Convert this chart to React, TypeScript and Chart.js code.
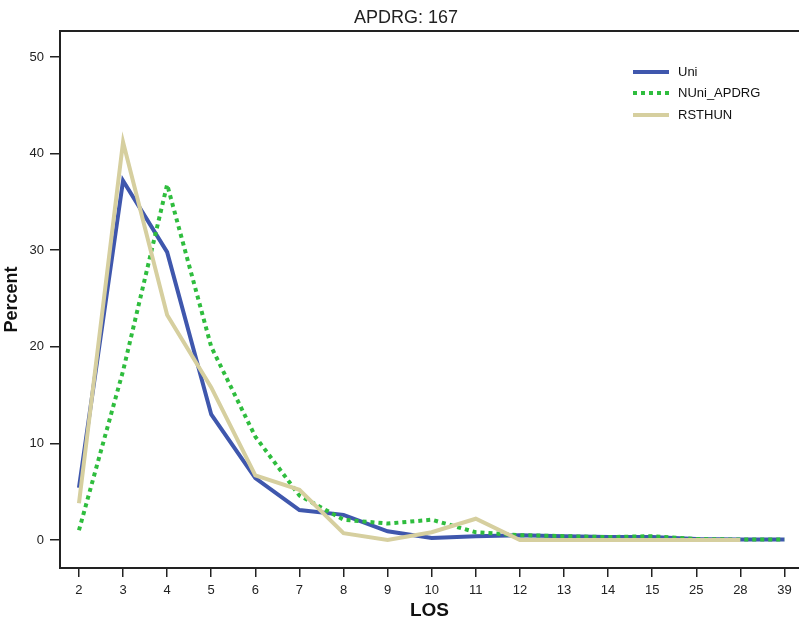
import React, { useEffect, useRef } from "react";
import { Chart, registerables } from "chart.js";

Chart.register(...registerables);

const categories = ["2", "3", "4", "5", "6", "7", "8", "9", "10", "11", "12", "13", "14", "15", "25", "28", "39"];
const uniValues = [5.4, 37.2, 29.8, 13.0, 6.4, 3.1, 2.6, 0.9, 0.2, 0.4, 0.5, 0.4, 0.3, 0.3, 0.1, 0.05, 0.05];
const nuniValues = [1.0, 17.5, 36.8, 20.0, 10.7, 4.6, 2.1, 1.7, 2.1, 0.8, 0.5, 0.4, 0.3, 0.4, 0.1, 0.05, 0.05];
const rsthunValues: (number | null)[] = [3.8, 41.2, 23.3, 15.8, 6.7, 5.2, 0.7, 0.0, 0.8, 2.2, 0.0, 0.0, 0.0, 0.0, 0.0, 0.0, null];
const yTicks = [0, 10, 20, 30, 40, 50];
const titleText = "APDRG: 167";
const seriesNames = ["Uni", "NUni_APDRG", "RSTHUN"];

const BLUE = "#3f57ad";
const GREEN = "#2fbd3e";
const TAN = "#d6cf9f";
const FONT = "'Liberation Sans', Arial, sans-serif";

function toPoints(vals: (number | null)[]) {
  return vals.map((v, i) => ({ x: i, y: v }));
}

export default function App() {
  const ref = useRef<HTMLCanvasElement | null>(null);
  useEffect(() => {
    if (!ref.current) return;
    const decor = {
      id: "decor",
      afterDraw(chart: any) {
        const ctx = chart.ctx;
        const a = chart.chartArea;
        ctx.save();
        // top frame line
        ctx.strokeStyle = "#222";
        ctx.lineWidth = 2;
        ctx.beginPath();
        ctx.moveTo(a.left - 1, a.top);
        ctx.lineTo(chart.width, a.top);
        ctx.stroke();
        // title
        ctx.fillStyle = "#222";
        ctx.font = `18px ${FONT}`;
        ctx.textAlign = "center";
        ctx.textBaseline = "middle";
        ctx.fillText(titleText, 406, 18);
        // legend
        const styles = [
          { c: BLUE, d: [] as number[] },
          { c: GREEN, d: [4, 4] },
          { c: TAN, d: [] as number[] },
        ];
        const ys = [72, 93, 115];
        ctx.font = `13px ${FONT}`;
        ctx.textAlign = "left";
        styles.forEach((s, i) => {
          ctx.strokeStyle = s.c;
          ctx.lineWidth = 4;
          ctx.setLineDash(s.d);
          ctx.lineCap = "butt";
          ctx.beginPath();
          ctx.moveTo(633, ys[i]);
          ctx.lineTo(669, ys[i]);
          ctx.stroke();
          ctx.setLineDash([]);
          ctx.fillStyle = "#111";
          ctx.fillText(seriesNames[i], 678, ys[i]);
        });
        ctx.restore();
      },
    };
    const chart = new Chart(ref.current, {
      type: "line",
      data: {
        datasets: [
          {
            label: seriesNames[0],
            data: toPoints(uniValues),
            borderColor: BLUE,
            borderWidth: 4,
            pointRadius: 0,
            borderJoinStyle: "miter",
            order: 3,
          },
          {
            label: seriesNames[1],
            data: toPoints(nuniValues),
            borderColor: GREEN,
            borderWidth: 4,
            borderDash: [4, 4],
            pointRadius: 0,
            borderJoinStyle: "miter",
            order: 2,
          },
          {
            label: seriesNames[2],
            data: toPoints(rsthunValues),
            borderColor: TAN,
            borderWidth: 4,
            pointRadius: 0,
            borderJoinStyle: "miter",
            order: 1,
          },
        ],
      },
      options: {
        animation: false,
        responsive: false,
        devicePixelRatio: 1,
        layout: { padding: { top: 31, left: 0, right: 0, bottom: 0 } },
        plugins: { legend: { display: false }, title: { display: false }, tooltip: { enabled: false } },
        scales: {
          x: {
            type: "linear",
            min: -0.43,
            max: 16.33,
            afterBuildTicks: (s: any) => {
              s.ticks = categories.map((_, i) => ({ value: i }));
            },
            afterFit: (s: any) => {
              s.height = 54;
            },
            ticks: {
              autoSkip: false,
              maxRotation: 0,
              padding: 6,
              color: "#222",
              font: { family: FONT, size: 13 },
              callback: (v: any) => categories[v as number] ?? "",
            },
            grid: { display: true, drawOnChartArea: false, drawTicks: true, tickLength: 9, color: "#222", lineWidth: 1.5 },
            border: { display: true, color: "#222", width: 2 },
            title: {
              display: true,
              text: "LOS",
              color: "#111",
              font: { family: FONT, size: 19, weight: "bold" },
              padding: { top: 0, bottom: 0 },
            },
          },
          y: {
            type: "linear",
            min: -2.9,
            max: 52.7,
            afterBuildTicks: (s: any) => {
              s.ticks = yTicks.map((v) => ({ value: v }));
            },
            afterFit: (s: any) => {
              s.width = 60;
            },
            ticks: {
              padding: 6,
              color: "#222",
              font: { family: FONT, size: 13 },
            },
            grid: { display: true, drawOnChartArea: false, drawTicks: true, tickLength: 10, color: "#222", lineWidth: 1.5 },
            border: { display: true, color: "#222", width: 2 },
            title: {
              display: true,
              text: "Percent",
              color: "#111",
              font: { family: FONT, size: 18, weight: "bold" },
              padding: { top: 1, bottom: 1 },
            },
          },
        },
      },
      plugins: [decor],
    } as any);
    return () => chart.destroy();
  }, []);
  return (
    <div style={{ position: "absolute", left: 0, top: 0, width: 799, height: 622, background: "#fff" }}>
      <canvas ref={ref} width={799} height={622} />
    </div>
  );
}
